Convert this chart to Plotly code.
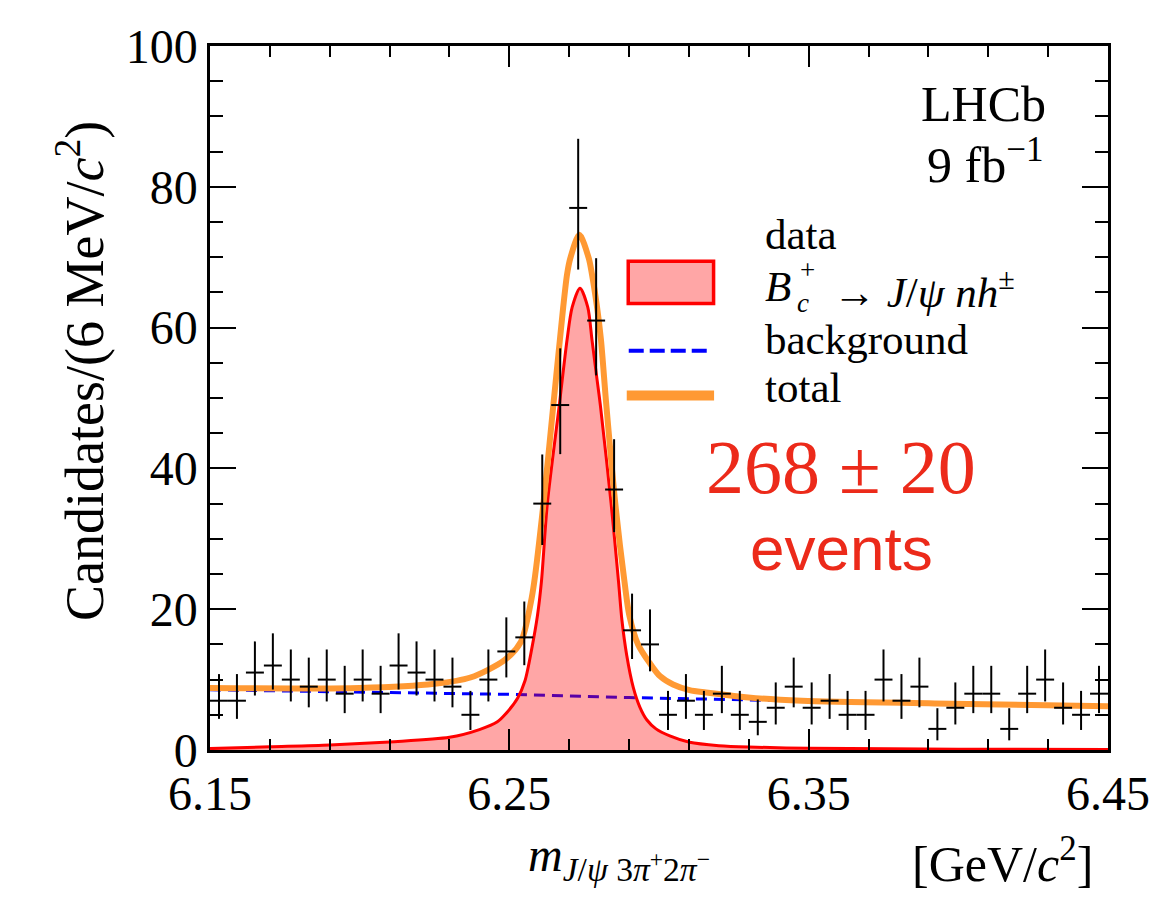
import numpy as np
import plotly.graph_objects as go

# ---------------- data ----------------
bin_low = 6.15
bin_width = 0.006
counts = [7, 7, 11, 12, 10, 9, 10, 8, 10, 8,
          12, 11, 10, 9, 5, 10, 14, 16, 35, 49,
          77, 61, 37, 17, 15, 5, 7, 5, 8, 5,
          4, 6, 9, 6, 7, 5, 5, 10, 7, 9,
          3, 6, 8, 8, 3, 8, 10, 6, 5, 8]

sig_x = [6.150, 6.170, 6.190, 6.210, 6.230, 6.240, 6.246, 6.2485, 6.2528, 6.2552,
         6.2575, 6.2594, 6.2607, 6.2627, 6.2667, 6.2693, 6.2710, 6.2736, 6.2762, 6.2776,
         6.2790, 6.2804, 6.2840, 6.2865, 6.2876, 6.2892, 6.2914, 6.2936, 6.2959, 6.2990,
         6.3036, 6.3102, 6.320, 6.330, 6.350, 6.400, 6.450]
sig_y = [0.2, 0.45, 0.7, 1.15, 1.8, 2.9, 4.0, 5.0, 7.4, 9.8,
         14.4, 19.1, 23.8, 35.0, 49.0, 58.3, 62.9, 65.6, 62.9, 58.3,
         53.6, 49.0, 35.0, 23.8, 18.5, 13.5, 8.9, 6.1, 4.3, 3.0,
         2.0, 1.1, 0.62, 0.42, 0.25, 0.12, 0.06]

tot_x = [6.150, 6.200, 6.225, 6.237, 6.2485, 6.2539, 6.2572, 6.2583, 6.2614, 6.2647,
         6.2669, 6.2680, 6.2693, 6.2704, 6.2734, 6.2765, 6.2776, 6.2793, 6.2806, 6.2824,
         6.2854, 6.2885, 6.2901, 6.2930, 6.2969, 6.3003, 6.3047, 6.3102, 6.3157, 6.3323,
         6.3478, 6.392, 6.450]
tot_y = [8.8, 8.8, 9.4, 10.3, 12.8, 15.4, 21.0, 23.8, 35.0, 49.0,
         58.3, 62.9, 67.6, 69.9, 73.2, 69.9, 67.6, 62.9, 58.3, 49.0,
         35.0, 23.8, 19.1, 15.0, 12.35, 10.5, 9.3, 8.5, 8.16, 7.37,
         7.0, 6.62, 6.2]

bkg_x = [6.15, 6.25, 6.29, 6.333, 6.40, 6.45]
bkg_y = [8.55, 7.9, 7.45, 7.08, 6.55, 6.1]

x_ticks = [6.15, 6.25, 6.35, 6.45]
y_ticks = [0, 20, 40, 60, 80, 100]

# ---------------- derived quantities ----------------
n = np.array(counts, dtype=float)
centers = bin_low + bin_width * (np.arange(len(counts)) + 0.5)
# Gehrels approximation to Poisson 68% intervals
nn = np.maximum(n, 1)
err_hi = np.sqrt(n + 0.75) + 1.0
err_lo = np.where(n > 0, n - n * (1 - 1 / (9 * nn) - 1 / (3 * np.sqrt(nn))) ** 3, 0)

SERIF = "Liberation Serif"
SANS = "Liberation Sans"
RED_TXT = "#EC2A1A"
ORANGE = "#FF9933"

# page is offset by the default 8px body margin; compensate
OFF = 8
W, H = 1162 - OFF, 899 - OFF
L, R, T, B = 210, 1115, 35, 750   # plot area in page pixels


def pxx(p):
    return (p - L) / (R - L)


def pxy(p):
    return (B - p) / (B - T)


fig = go.Figure()

fig.add_trace(go.Scatter(x=bkg_x, y=bkg_y, mode="lines",
                         line=dict(color="#0000FF", width=3, dash="11px,7px"),
                         showlegend=False, hoverinfo="skip"))
fig.add_trace(go.Scatter(x=sig_x, y=sig_y, mode="lines", fill="tozeroy",
                         fillcolor="rgba(255,0,0,0.35)",
                         line=dict(color="#FF0000", width=3, shape="spline", smoothing=0.8),
                         showlegend=False, hoverinfo="skip"))
fig.add_trace(go.Scatter(x=tot_x, y=tot_y, mode="lines",
                         line=dict(color=ORANGE, width=6, shape="spline", smoothing=0.8),
                         showlegend=False, hoverinfo="skip"))
fig.add_trace(go.Scatter(x=centers, y=n, mode="markers",
                         marker=dict(size=0, opacity=0, color="black", line=dict(width=0)),
                         error_y=dict(type="data", symmetric=False, array=err_hi, arrayminus=err_lo,
                                      color="black", thickness=2, width=0),
                         error_x=dict(type="constant", value=bin_width / 2,
                                      color="black", thickness=2, width=0),
                         showlegend=False))

axis_common = dict(showgrid=False, zeroline=False, showline=True, linecolor="black",
                   linewidth=2.5, mirror="ticks", ticks="inside", tickcolor="black",
                   tickwidth=2, tickfont=dict(family=SERIF, size=48, color="black"))

fig.update_xaxes(range=[6.15, 6.45], tickvals=x_ticks, ticktext=[f"{v:.2f}" for v in x_ticks],
                 ticklen=21,
                 minor=dict(dtick=0.02, tick0=6.15, ticklen=11, tickwidth=2, ticks="inside",
                            tickcolor="black", showgrid=False),
                 **axis_common)
fig.update_yaxes(range=[0, 100], tickvals=y_ticks, ticklen=26,
                 minor=dict(dtick=5, tick0=0, ticklen=13, tickwidth=2, ticks="inside",
                            tickcolor="black", showgrid=False),
                 **axis_common)

ann = []


def add_text(text, x, y, size, family=SERIF, color="black", xanchor="left", yanchor="middle", angle=0):
    ann.append(dict(text=text, x=pxx(x), y=pxy(y), xref="paper", yref="paper",
                    showarrow=False, xanchor=xanchor, yanchor=yanchor, textangle=angle,
                    font=dict(family=family, size=size, color=color)))


# axis titles
add_text("Candidates/(6 MeV/<i>c</i><sup>2</sup>)", 80, 365, 54, xanchor="center", angle=-90)
add_text("<i>m</i><sub><i>J</i>/<i>ψ</i> 3<i>π</i><sup>+</sup>2<i>π</i><sup>−</sup></sub>",
         528, 860, 48, xanchor="left")
add_text("[GeV/<i>c</i><sup>2</sup>]", 1102, 862, 50, xanchor="right")

# LHCb labels
add_text("LHCb", 1055, 94, 50, xanchor="right")
add_text("9 fb<sup>−1</sup>", 1052, 152, 50, xanchor="right")

# legend
LEG_FS = 43
add_text("data", 767, 226, LEG_FS)
add_text("<i>B</i>", 767, 279, LEG_FS)
add_text("<i>c</i>", 800, 296, 27)
add_text("+", 803, 262, 27)
add_text("→ <i>J</i>/<i>ψ</i> <i>nh</i><sup>±</sup>", 836, 282, LEG_FS)
add_text("background", 767, 333, LEG_FS)
add_text("total", 767, 382, LEG_FS)

# yield
add_text("268 ± 20", 846, 463, 76, color=RED_TXT, xanchor="center")
add_text("events", 846, 545, 62, family=SANS, color=RED_TXT, xanchor="center")

shapes = [
    dict(type="rect", xref="paper", yref="paper", x0=pxx(631.5), x1=pxx(717.5), y0=pxy(296.5), y1=pxy(253.5),
         line=dict(color="#FF0000", width=3.5), fillcolor="rgba(255,0,0,0.35)"),
    dict(type="line", xref="paper", yref="paper", x0=pxx(632), x1=pxx(711), y0=pxy(344.5), y1=pxy(344.5),
         line=dict(color="#0000FF", width=4, dash="15px,6px")),
    dict(type="line", xref="paper", yref="paper", x0=pxx(630), x1=pxx(718), y0=pxy(390), y1=pxy(390),
         line=dict(color=ORANGE, width=10)),
]

fig.update_layout(width=W, height=H,
                  margin=dict(l=L - OFF, r=W - (R - OFF), t=T - OFF, b=H - (B - OFF)),
                  paper_bgcolor="white", plot_bgcolor="white",
                  annotations=ann, shapes=shapes, showlegend=False)

fig.write_html("out.html")
